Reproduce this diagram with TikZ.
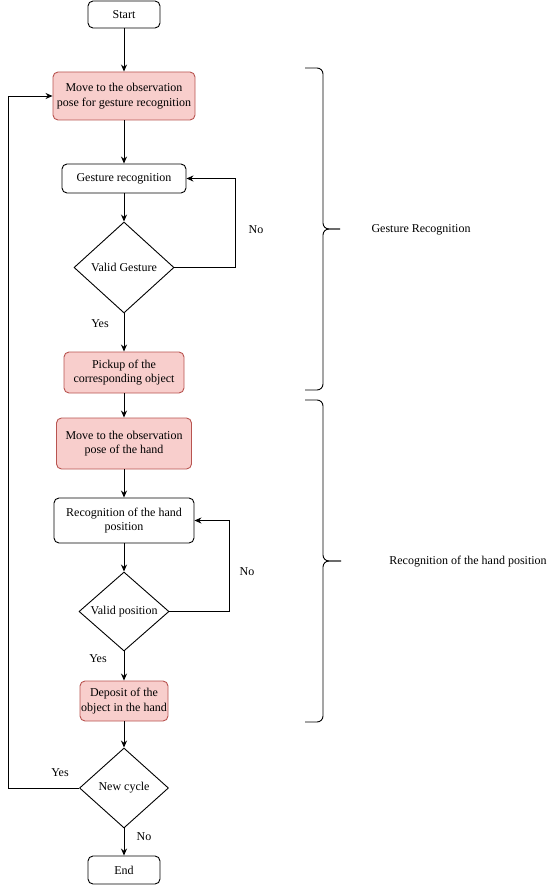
\documentclass[tikz,border=0pt]{standalone}
\usepackage{fontspec}
\setmainfont{Liberation Serif}
\usetikzlibrary{shapes.geometric,arrows.meta}

\definecolor{pinkfill}{HTML}{F8CECC}
\definecolor{pinkline}{HTML}{B85450}

\begin{document}
\begin{tikzpicture}[x=1pt,y=-1pt,
  every node/.style={font=\fontsize{12}{14.5}\selectfont},
  box/.style={draw, line width=0.9pt, rounded corners=5pt, align=center, inner sep=0pt},
  pinkbox/.style={box, fill=pinkfill, draw=pinkline},
  decide/.style={draw, line width=0.9pt, diamond, inner sep=0pt},
  arrow/.style={-{Stealth[length=7pt,width=6pt]}, line width=0.9pt},
  brace/.style={line width=0.9pt, rounded corners=6pt}]

  \useasboundingbox (0,0) rectangle (556,885);

  % main flow
  \node[box, minimum width=72, minimum height=27] (start) at (124,14.5) {Start};
  \node[pinkbox, minimum width=142, minimum height=48] (move1) at (124,96) {Move to the observation\\pose for gesture recognition};
  \node[box, minimum width=124, minimum height=29] (gesture) at (124,178.5) {Gesture recognition};
  \node[decide, minimum width=100, minimum height=91, label=center:Valid Gesture] (validg) at (124,267.5) {};
  \node[pinkbox, minimum width=120, minimum height=41] (pickup) at (124,372.5) {Pickup of the\\corresponding object};
  \node[pinkbox, minimum width=135, minimum height=51] (move2) at (124,443.5) {Move to the observation\\pose of the hand};
  \node[box, minimum width=140, minimum height=45] (handrec) at (124,520.5) {Recognition of the hand\\position};
  \node[decide, minimum width=90, minimum height=79, label=center:Valid position] (validp) at (124,611.5) {};
  \node[pinkbox, minimum width=88, minimum height=40] (deposit) at (124,701) {Deposit of the\\object in the hand};
  \node[decide, minimum width=89, minimum height=80, label=center:New cycle] (cycle) at (124,788) {};
  \node[box, minimum width=72, minimum height=28] (end) at (124,870) {End};

  \draw[arrow] (start) -- (move1);
  \draw[arrow] (move1) -- (gesture);
  \draw[arrow] (gesture) -- (validg);
  \draw[arrow] (validg) -- (pickup);
  \draw[arrow] (pickup) -- (move2);
  \draw[arrow] (move2) -- (handrec);
  \draw[arrow] (handrec) -- (validp);
  \draw[arrow] (validp) -- (deposit);
  \draw[arrow] (deposit) -- (cycle);
  \draw[arrow] (cycle) -- (end);

  % loops back
  \draw[arrow] (validg.east) -- ++(61,0) |- (gesture.east);
  \draw[arrow] (validp.east) -- ++(60,0) |- (handrec.east);
  \draw[arrow] (cycle.west) -- ++(-71,0) |- (move1.west);

  \node (nog) at (256,230) {No};
  \node (yesg) at (100,324) {Yes};
  \node (nop) at (247,572) {No};
  \node (yesp) at (98,659) {Yes};
  \node (yesc) at (60,773) {Yes};
  \node (noc) at (144,837) {No};

  % braces
  \draw[brace] (305,68) -| (323,229) -- (340,229);
  \draw[brace] (305,390) -| (323,229) -- (340,229);
  \draw[brace] (305,400) -| (323,561) -- (341,561);
  \draw[brace] (305,722) -| (323,561) -- (341,561);

  \node (gesturelbl) at (421,230) {Gesture Recognition};
  \node (handlbl) at (468,562) {Recognition of the hand position};

\end{tikzpicture}
\end{document}
